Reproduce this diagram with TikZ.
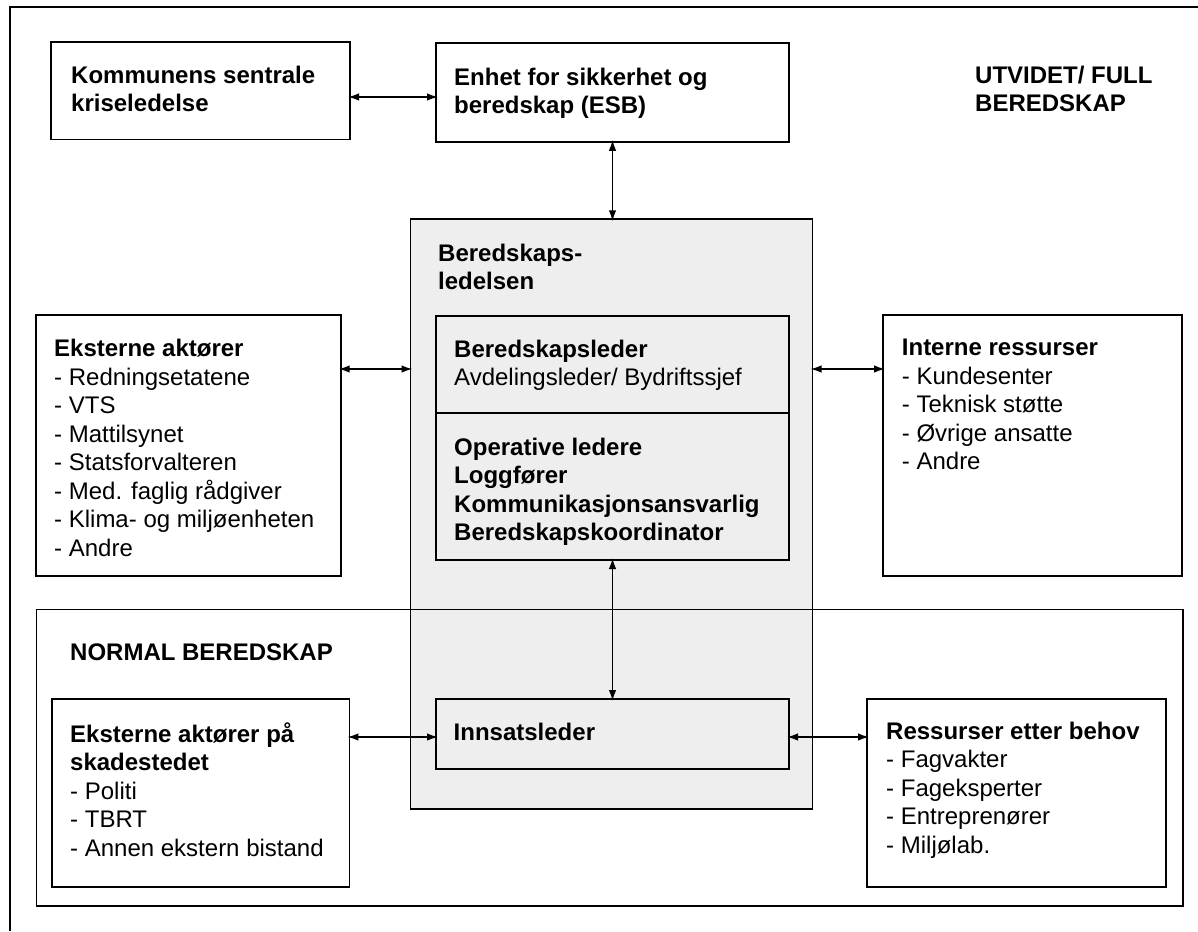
\documentclass[tikz,border=0pt]{standalone}
\usepackage{fontspec}
\setmainfont{Liberation Sans}
\usetikzlibrary{arrows.meta}
\definecolor{ledfill}{HTML}{EEEEEE}
\begin{document}
\begin{tikzpicture}[x=1pt, y=-1pt,
    box/.style 2 args={draw, line width=1.8pt, anchor=north west, inner sep=0pt, outer sep=0pt, minimum width=#1pt, minimum height=#2pt},
    txt/.style={anchor=north west, inner sep=0pt, align=left, font=\fontsize{24}{28.5}\selectfont},
    head/.style={txt, font=\fontsize{24}{28.5}\selectfont\bfseries},
    link/.style={line width=1.5pt, {Latex[length=11pt,width=7.5pt]}-{Latex[length=11pt,width=7.5pt]}, shorten <=-2pt, shorten >=-2pt}]
\useasboundingbox (0,0) rectangle (1198,931);
\draw[line width=1.8pt] (10,931) -- (10,7.3) -- (1198,7.3);

\node[box={299}{97.5}] (kom) at (51,42) {};
\node[box={353}{98.5}] (esb) at (436,43.3) {};
\node[box={402}{590}, fill=ledfill] (led) at (410.5,219.3) {};
\node[box={353}{97.3}] (lder) at (436,315.7) {};
\node[box={353}{147}] (ops) at (436,413) {};
\node[box={305}{260.7}] (ekst) at (35.7,315) {};
\node[box={298.7}{260.7}] (intern) at (883,315) {};
\node[box={1146.6}{296.2}] (normal) at (36.4,609.5) {};
\node[box={297.7}{187.7}] (skade) at (51.7,699) {};
\node[box={353}{70.3}] (innsats) at (436,699) {};
\node[box={298.7}{187.7}] (ress) at (867,699) {};

\node[head] (komtxt) at (71,65.5) {Kommunens sentrale\\kriseledelse};
\node[head] (esbtxt) at (454,67.5) {Enhet for sikkerhet og\\beredskap (ESB)};
\node[head] (utvtxt) at (975,65.5) {UTVIDET/ FULL\\BEREDSKAP};
\node[head] (ledtxt) at (438,243.5) {Beredskaps-\\ledelsen};
\node[txt] (ldertxt) at (454,339.5) {\textbf{Beredskapsleder}\\Avdelingsleder/ Bydriftssjef};
\node[head] (opstxt) at (454,437.5) {Operative ledere\\Loggfører\\Kommunikasjonsansvarlig\\Beredskapskoordinator};
\node[txt] (eksttxt) at (54,339.2) {\textbf{Eksterne aktører}\\- Redningsetatene\\- VTS\\- Mattilsynet\\- Statsforvalteren\\- Med. faglig rådgiver\\- Klima- og miljøenheten\\- Andre};
\node[txt] (interntxt) at (901.7,339.2) {\textbf{Interne ressurser}\\- Kundesenter\\- Teknisk støtte\\- Øvrige ansatte\\- Andre};
\node[head] (normaltxt) at (70,643.2) {NORMAL BEREDSKAP};
\node[txt] (skadetxt) at (70,722.5) {\textbf{Eksterne aktører på}\\\textbf{skadestedet}\\- Politi\\- TBRT\\- Annen ekstern bistand};
\node[head] (innsatstxt) at (453.5,722.5) {Innsatsleder};
\node[txt] (resstxt) at (886,721.5) {\textbf{Ressurser etter behov}\\- Fagvakter\\- Fageksperter\\- Entreprenører\\- Miljølab.};

\draw[link] (kom.east |- 0,97) -- (esb.west |- 0,97);
\draw[link] (esb.south) -- (led.north -| esb.south);
\draw[link] (ekst.east |- 0,369) -- (led.west |- 0,369);
\draw[link] (led.east |- 0,369) -- (intern.west |- 0,369);
\draw[link] (ops.south) -- (innsats.north);
\draw[link] (skade.east |- 0,737) -- (innsats.west |- 0,737);
\draw[link] (innsats.east |- 0,737) -- (ress.west |- 0,737);
\end{tikzpicture}
\end{document}
